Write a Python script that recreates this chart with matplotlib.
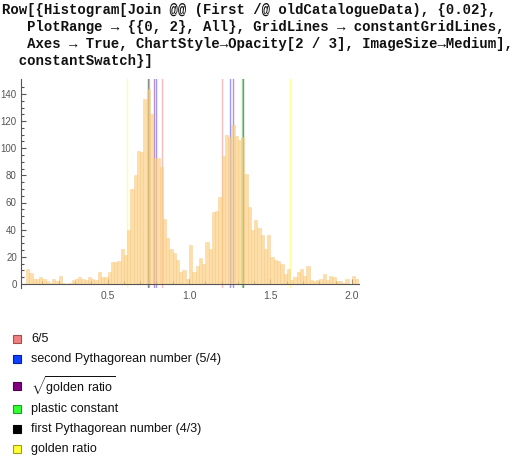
import numpy as np
import matplotlib.pyplot as plt
from matplotlib.patches import Rectangle

plt.rcParams['mathtext.fontset'] = 'custom'
plt.rcParams['mathtext.rm'] = 'Liberation Sans'

# histogram counts, bin width 0.02 starting at 0
bin_width = 0.02
counts = [11, 8, 4, 4, 5, 4, 2, 1, 4, 2,
          6, 1, 0, 1, 3, 4, 5, 4, 3, 5,
          4, 3, 9, 5, 5, 9, 16, 16, 17, 26,
          21, 40, 70, 80, 98, 97, 136, 144, 125, 93,
          93, 86, 48, 34, 26, 23, 18, 9, 10, 4,
          29, 9, 13, 19, 15, 31, 26, 53, 54, 64,
          94, 110, 108, 117, 109, 106, 108, 81, 57, 40,
          47, 41, 36, 26, 36, 20, 18, 17, 15, 7,
          11, 3, 5, 9, 11, 6, 13, 3, 2, 3,
          4, 7, 3, 6, 5, 2, 2, 1, 4, 0,
          6, 4, 2]

# constants (grid lines at value and reciprocal)
const_names = ['6/5', 'second Pythagorean number (5/4)', r'$\sqrt{\mathrm{golden\ ratio}}$',
               'plastic constant', 'first Pythagorean number (4/3)', 'golden ratio']
const_values = [1.2, 1.25, 1.2720196, 1.3247180, 4 / 3, 1.6180340]
grid_colors = ['#f9bcbc', '#9a9aff', '#c08fcc', '#9de89d', '#8a8a8a', '#ffff9a']
swatch_colors = ['#f08080', '#1040ff', '#800080', '#33ff33', '#000000', '#ffff33']
swatch_edges = ['#a05050', '#0020a0', '#500050', '#20a020', '#000000', '#a0a020']

code_lines = ['Row[{Histogram[Join @@ (First /@ oldCatalogueData), {0.02},',
              '   PlotRange \u2192 {{0, 2}, All}, GridLines \u2192 constantGridLines,',
              '   Axes \u2192 True, ChartStyle\u2192Opacity[2 / 3], ImageSize\u2192Medium],',
              '  constantSwatch}]']

W, H = 520, 458
fig = plt.figure(figsize=(W / 100, H / 100), dpi=100)

# code text
code_y = [10, 27, 44, 61]
for line, y in zip(code_lines, code_y):
    fig.text(2 / W, 1 - y / H, line, family=['Liberation Mono', 'DejaVu Sans Mono'],
             fontweight='bold', fontsize=10.1, va='center', ha='left', color='#111111')

ax = fig.add_axes([21 / W, 1 - 288 / H, (359 - 21) / W, (288 - 79) / H])
ax.set_xlim(-0.0307, 2.043)
ax.set_ylim(-3, 151)

for v, c in zip(const_values, grid_colors):
    ax.axvline(v, color=c, lw=1.0, zorder=0)
    ax.axvline(1 / v, color=c, lw=1.0, zorder=0)

lefts = np.arange(len(counts)) * bin_width
ax.bar(lefts, counts, width=bin_width, align='edge', color=(0.987, 0.807, 0.495),
       alpha=2 / 3, edgecolor=(0.96, 0.78, 0.5), linewidth=0.4, zorder=2)

for s in ['top', 'right']:
    ax.spines[s].set_visible(False)
ax.spines['bottom'].set_position(('data', 0))
for s in ['left', 'bottom']:
    ax.spines[s].set_color('#555555')
    ax.spines[s].set_linewidth(0.8)
    ax.spines[s].set_zorder(3)

ax.set_xticks([0.5, 1.0, 1.5, 2.0])
ax.set_xticklabels(['0.5', '1.0', '1.5', '2.0'])
ax.set_xticks([round(0.1 * i, 1) for i in range(0, 21) if i % 5 != 0], minor=True)
ax.set_yticks(range(0, 141, 20))
ax.set_yticks([i for i in range(5, 150, 5) if i % 20 != 0], minor=True)
ax.tick_params(which='both', direction='in', color='#555555', width=0.8,
               labelcolor='#555555')
ax.tick_params(which='major', length=3.5)
ax.tick_params(which='minor', length=2)
ax.tick_params(axis='x', pad=5, labelsize=7.5)
ax.tick_params(axis='y', pad=3, labelsize=7)
for lab in ax.get_xticklabels() + ax.get_yticklabels():
    lab.set_family('Liberation Sans')
ax.set_facecolor('none')

# legend (swatches)
leg_y = [339, 359, 386, 409, 429, 449]
for name, c, ec, y in zip(const_names, swatch_colors, swatch_edges, leg_y):
    fig.patches.append(Rectangle((13 / W, 1 - (y + 4) / H), 8 / W, 8 / H,
                                 transform=fig.transFigure, facecolor=c,
                                 edgecolor=ec, linewidth=0.8))
    fig.text(31 / W, 1 - y / H, name, family='Liberation Sans', fontsize=9,
             va='center', ha='left', color='#111111')

fig.savefig('out.png', dpi=100)
